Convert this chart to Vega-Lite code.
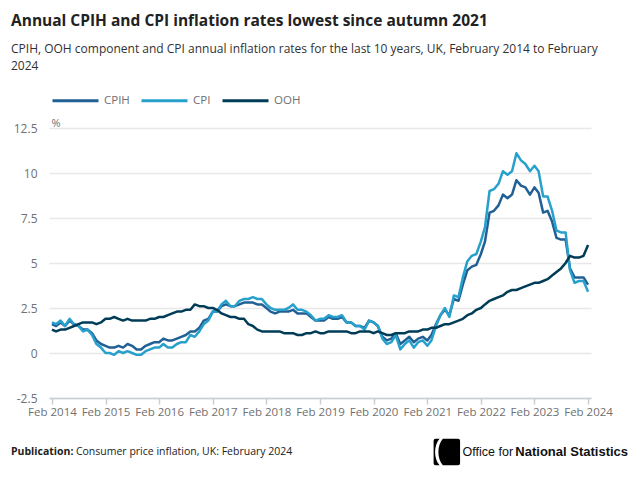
{
  "$schema": "https://vega.github.io/schema/vega-lite/v6.json",
  "width": 542,
  "height": 270,
  "autosize": {"type": "none"},
  "padding": {"left": 49, "top": 128, "right": 43, "bottom": 82},
  "background": "#ffffff",
  "title": {
    "text": "Annual CPIH and CPI inflation rates lowest since autumn 2021",
    "subtitle": ["CPIH, OOH component and CPI annual inflation rates for the last 10 years, UK, February 2014 to February", "2024"],
    "anchor": "start",
    "frame": "group",
    "dx": -38,
    "offset": 4,
    "font": "Open Sans",
    "fontSize": 15.5,
    "fontWeight": "bold",
    "color": "#222222",
    "subtitleFont": "Open Sans",
    "subtitleFontSize": 12,
    "subtitleColor": "#323132",
    "subtitleLineHeight": 17,
    "subtitlePadding": 15
  },
  "config": {
    "font": "Open Sans",
    "view": {"stroke": null},
    "axis": {"labelFont": "Open Sans", "titleFont": "Open Sans"}
  },
  "layer": [
    {
      "data": {
        "values": [
          {"d": "2014-02-01", "CPIH": 1.6, "CPI": 1.7, "OOH": 1.3},
          {"d": "2014-03-01", "CPIH": 1.5, "CPI": 1.6, "OOH": 1.2},
          {"d": "2014-04-01", "CPIH": 1.7, "CPI": 1.8, "OOH": 1.3},
          {"d": "2014-05-01", "CPIH": 1.5, "CPI": 1.5, "OOH": 1.3},
          {"d": "2014-06-01", "CPIH": 1.8, "CPI": 1.9, "OOH": 1.4},
          {"d": "2014-07-01", "CPIH": 1.6, "CPI": 1.6, "OOH": 1.5},
          {"d": "2014-08-01", "CPIH": 1.5, "CPI": 1.5, "OOH": 1.6},
          {"d": "2014-09-01", "CPIH": 1.3, "CPI": 1.2, "OOH": 1.7},
          {"d": "2014-10-01", "CPIH": 1.3, "CPI": 1.3, "OOH": 1.7},
          {"d": "2014-11-01", "CPIH": 1.1, "CPI": 1.0, "OOH": 1.7},
          {"d": "2014-12-01", "CPIH": 0.7, "CPI": 0.5, "OOH": 1.6},
          {"d": "2015-01-01", "CPIH": 0.5, "CPI": 0.3, "OOH": 1.7},
          {"d": "2015-02-01", "CPIH": 0.4, "CPI": 0.0, "OOH": 1.9},
          {"d": "2015-03-01", "CPIH": 0.3, "CPI": 0.0, "OOH": 1.9},
          {"d": "2015-04-01", "CPIH": 0.3, "CPI": -0.1, "OOH": 2.0},
          {"d": "2015-05-01", "CPIH": 0.4, "CPI": 0.1, "OOH": 1.9},
          {"d": "2015-06-01", "CPIH": 0.3, "CPI": 0.0, "OOH": 1.8},
          {"d": "2015-07-01", "CPIH": 0.5, "CPI": 0.1, "OOH": 1.9},
          {"d": "2015-08-01", "CPIH": 0.4, "CPI": 0.0, "OOH": 1.8},
          {"d": "2015-09-01", "CPIH": 0.2, "CPI": -0.1, "OOH": 1.8},
          {"d": "2015-10-01", "CPIH": 0.2, "CPI": -0.1, "OOH": 1.8},
          {"d": "2015-11-01", "CPIH": 0.4, "CPI": 0.1, "OOH": 1.8},
          {"d": "2015-12-01", "CPIH": 0.5, "CPI": 0.2, "OOH": 1.9},
          {"d": "2016-01-01", "CPIH": 0.6, "CPI": 0.3, "OOH": 1.9},
          {"d": "2016-02-01", "CPIH": 0.6, "CPI": 0.3, "OOH": 2.0},
          {"d": "2016-03-01", "CPIH": 0.8, "CPI": 0.5, "OOH": 2.0},
          {"d": "2016-04-01", "CPIH": 0.7, "CPI": 0.3, "OOH": 2.1},
          {"d": "2016-05-01", "CPIH": 0.7, "CPI": 0.3, "OOH": 2.2},
          {"d": "2016-06-01", "CPIH": 0.8, "CPI": 0.5, "OOH": 2.3},
          {"d": "2016-07-01", "CPIH": 0.9, "CPI": 0.6, "OOH": 2.3},
          {"d": "2016-08-01", "CPIH": 1.0, "CPI": 0.6, "OOH": 2.4},
          {"d": "2016-09-01", "CPIH": 1.2, "CPI": 1.0, "OOH": 2.4},
          {"d": "2016-10-01", "CPIH": 1.2, "CPI": 0.9, "OOH": 2.7},
          {"d": "2016-11-01", "CPIH": 1.4, "CPI": 1.2, "OOH": 2.6},
          {"d": "2016-12-01", "CPIH": 1.8, "CPI": 1.6, "OOH": 2.6},
          {"d": "2017-01-01", "CPIH": 1.9, "CPI": 1.8, "OOH": 2.5},
          {"d": "2017-02-01", "CPIH": 2.3, "CPI": 2.3, "OOH": 2.5},
          {"d": "2017-03-01", "CPIH": 2.3, "CPI": 2.3, "OOH": 2.4},
          {"d": "2017-04-01", "CPIH": 2.6, "CPI": 2.7, "OOH": 2.2},
          {"d": "2017-05-01", "CPIH": 2.7, "CPI": 2.9, "OOH": 2.1},
          {"d": "2017-06-01", "CPIH": 2.6, "CPI": 2.6, "OOH": 2.0},
          {"d": "2017-07-01", "CPIH": 2.6, "CPI": 2.6, "OOH": 2.0},
          {"d": "2017-08-01", "CPIH": 2.7, "CPI": 2.9, "OOH": 1.9},
          {"d": "2017-09-01", "CPIH": 2.8, "CPI": 3.0, "OOH": 1.9},
          {"d": "2017-10-01", "CPIH": 2.8, "CPI": 3.0, "OOH": 1.6},
          {"d": "2017-11-01", "CPIH": 2.8, "CPI": 3.1, "OOH": 1.5},
          {"d": "2017-12-01", "CPIH": 2.7, "CPI": 3.0, "OOH": 1.3},
          {"d": "2018-01-01", "CPIH": 2.7, "CPI": 3.0, "OOH": 1.2},
          {"d": "2018-02-01", "CPIH": 2.5, "CPI": 2.7, "OOH": 1.2},
          {"d": "2018-03-01", "CPIH": 2.3, "CPI": 2.5, "OOH": 1.2},
          {"d": "2018-04-01", "CPIH": 2.2, "CPI": 2.4, "OOH": 1.2},
          {"d": "2018-05-01", "CPIH": 2.3, "CPI": 2.4, "OOH": 1.2},
          {"d": "2018-06-01", "CPIH": 2.3, "CPI": 2.4, "OOH": 1.1},
          {"d": "2018-07-01", "CPIH": 2.3, "CPI": 2.5, "OOH": 1.1},
          {"d": "2018-08-01", "CPIH": 2.4, "CPI": 2.7, "OOH": 1.1},
          {"d": "2018-09-01", "CPIH": 2.2, "CPI": 2.4, "OOH": 1.0},
          {"d": "2018-10-01", "CPIH": 2.2, "CPI": 2.4, "OOH": 1.0},
          {"d": "2018-11-01", "CPIH": 2.2, "CPI": 2.3, "OOH": 1.1},
          {"d": "2018-12-01", "CPIH": 2.0, "CPI": 2.1, "OOH": 1.1},
          {"d": "2019-01-01", "CPIH": 1.8, "CPI": 1.8, "OOH": 1.2},
          {"d": "2019-02-01", "CPIH": 1.8, "CPI": 1.9, "OOH": 1.1},
          {"d": "2019-03-01", "CPIH": 1.8, "CPI": 1.9, "OOH": 1.1},
          {"d": "2019-04-01", "CPIH": 2.0, "CPI": 2.1, "OOH": 1.2},
          {"d": "2019-05-01", "CPIH": 1.9, "CPI": 2.0, "OOH": 1.2},
          {"d": "2019-06-01", "CPIH": 1.9, "CPI": 2.0, "OOH": 1.2},
          {"d": "2019-07-01", "CPIH": 2.0, "CPI": 2.1, "OOH": 1.2},
          {"d": "2019-08-01", "CPIH": 1.7, "CPI": 1.7, "OOH": 1.2},
          {"d": "2019-09-01", "CPIH": 1.7, "CPI": 1.7, "OOH": 1.1},
          {"d": "2019-10-01", "CPIH": 1.5, "CPI": 1.5, "OOH": 1.1},
          {"d": "2019-11-01", "CPIH": 1.5, "CPI": 1.5, "OOH": 1.2},
          {"d": "2019-12-01", "CPIH": 1.4, "CPI": 1.3, "OOH": 1.2},
          {"d": "2020-01-01", "CPIH": 1.8, "CPI": 1.8, "OOH": 1.2},
          {"d": "2020-02-01", "CPIH": 1.7, "CPI": 1.7, "OOH": 1.1},
          {"d": "2020-03-01", "CPIH": 1.5, "CPI": 1.5, "OOH": 1.2},
          {"d": "2020-04-01", "CPIH": 0.9, "CPI": 0.8, "OOH": 1.1},
          {"d": "2020-05-01", "CPIH": 0.7, "CPI": 0.5, "OOH": 1.0},
          {"d": "2020-06-01", "CPIH": 0.8, "CPI": 0.6, "OOH": 1.0},
          {"d": "2020-07-01", "CPIH": 1.1, "CPI": 1.0, "OOH": 1.1},
          {"d": "2020-08-01", "CPIH": 0.5, "CPI": 0.2, "OOH": 1.1},
          {"d": "2020-09-01", "CPIH": 0.7, "CPI": 0.5, "OOH": 1.1},
          {"d": "2020-10-01", "CPIH": 0.9, "CPI": 0.7, "OOH": 1.2},
          {"d": "2020-11-01", "CPIH": 0.6, "CPI": 0.3, "OOH": 1.2},
          {"d": "2020-12-01", "CPIH": 0.8, "CPI": 0.6, "OOH": 1.2},
          {"d": "2021-01-01", "CPIH": 0.9, "CPI": 0.7, "OOH": 1.3},
          {"d": "2021-02-01", "CPIH": 0.7, "CPI": 0.4, "OOH": 1.3},
          {"d": "2021-03-01", "CPIH": 1.0, "CPI": 0.7, "OOH": 1.4},
          {"d": "2021-04-01", "CPIH": 1.6, "CPI": 1.5, "OOH": 1.4},
          {"d": "2021-05-01", "CPIH": 2.1, "CPI": 2.1, "OOH": 1.5},
          {"d": "2021-06-01", "CPIH": 2.4, "CPI": 2.5, "OOH": 1.6},
          {"d": "2021-07-01", "CPIH": 2.1, "CPI": 2.0, "OOH": 1.6},
          {"d": "2021-08-01", "CPIH": 3.0, "CPI": 3.2, "OOH": 1.7},
          {"d": "2021-09-01", "CPIH": 2.9, "CPI": 3.1, "OOH": 1.8},
          {"d": "2021-10-01", "CPIH": 3.8, "CPI": 4.2, "OOH": 1.9},
          {"d": "2021-11-01", "CPIH": 4.6, "CPI": 5.1, "OOH": 2.1},
          {"d": "2021-12-01", "CPIH": 4.8, "CPI": 5.4, "OOH": 2.2},
          {"d": "2022-01-01", "CPIH": 4.9, "CPI": 5.5, "OOH": 2.4},
          {"d": "2022-02-01", "CPIH": 5.5, "CPI": 6.2, "OOH": 2.5},
          {"d": "2022-03-01", "CPIH": 6.2, "CPI": 7.0, "OOH": 2.7},
          {"d": "2022-04-01", "CPIH": 7.8, "CPI": 9.0, "OOH": 2.9},
          {"d": "2022-05-01", "CPIH": 7.9, "CPI": 9.1, "OOH": 3.0},
          {"d": "2022-06-01", "CPIH": 8.2, "CPI": 9.4, "OOH": 3.1},
          {"d": "2022-07-01", "CPIH": 8.8, "CPI": 10.1, "OOH": 3.2},
          {"d": "2022-08-01", "CPIH": 8.6, "CPI": 9.9, "OOH": 3.4},
          {"d": "2022-09-01", "CPIH": 8.8, "CPI": 10.1, "OOH": 3.5},
          {"d": "2022-10-01", "CPIH": 9.6, "CPI": 11.1, "OOH": 3.5},
          {"d": "2022-11-01", "CPIH": 9.3, "CPI": 10.7, "OOH": 3.6},
          {"d": "2022-12-01", "CPIH": 9.2, "CPI": 10.5, "OOH": 3.7},
          {"d": "2023-01-01", "CPIH": 8.8, "CPI": 10.1, "OOH": 3.8},
          {"d": "2023-02-01", "CPIH": 9.2, "CPI": 10.4, "OOH": 3.9},
          {"d": "2023-03-01", "CPIH": 8.9, "CPI": 10.1, "OOH": 3.9},
          {"d": "2023-04-01", "CPIH": 7.8, "CPI": 8.7, "OOH": 4.0},
          {"d": "2023-05-01", "CPIH": 7.9, "CPI": 8.7, "OOH": 4.1},
          {"d": "2023-06-01", "CPIH": 7.3, "CPI": 7.9, "OOH": 4.3},
          {"d": "2023-07-01", "CPIH": 6.4, "CPI": 6.8, "OOH": 4.5},
          {"d": "2023-08-01", "CPIH": 6.3, "CPI": 6.7, "OOH": 4.7},
          {"d": "2023-09-01", "CPIH": 6.3, "CPI": 6.7, "OOH": 5.0},
          {"d": "2023-10-01", "CPIH": 4.7, "CPI": 4.6, "OOH": 5.4},
          {"d": "2023-11-01", "CPIH": 4.2, "CPI": 3.9, "OOH": 5.3},
          {"d": "2023-12-01", "CPIH": 4.2, "CPI": 4.0, "OOH": 5.3},
          {"d": "2024-01-01", "CPIH": 4.2, "CPI": 4.0, "OOH": 5.4},
          {"d": "2024-02-01", "CPIH": 3.8, "CPI": 3.4, "OOH": 6.0}
        ]
      },
      "transform": [{"fold": ["CPIH", "CPI", "OOH"], "as": ["series", "value"]}],
      "mark": {"type": "line", "strokeWidth": 2.5, "strokeJoin": "round"},
      "encoding": {
        "x": {
          "field": "d",
          "type": "temporal",
          "scale": {
            "type": "utc",
            "domain": [
              {"year": 2014, "month": 1, "date": 12, "utc": true},
              {"year": 2024, "month": 2, "date": 21, "utc": true}
            ]
          },
          "axis": {
            "title": null,
            "values": [
              {"year": 2014, "month": 2, "date": 1, "utc": true},
              {"year": 2015, "month": 2, "date": 1, "utc": true},
              {"year": 2016, "month": 2, "date": 1, "utc": true},
              {"year": 2017, "month": 2, "date": 1, "utc": true},
              {"year": 2018, "month": 2, "date": 1, "utc": true},
              {"year": 2019, "month": 2, "date": 1, "utc": true},
              {"year": 2020, "month": 2, "date": 1, "utc": true},
              {"year": 2021, "month": 2, "date": 1, "utc": true},
              {"year": 2022, "month": 2, "date": 1, "utc": true},
              {"year": 2023, "month": 2, "date": 1, "utc": true},
              {"year": 2024, "month": 2, "date": 1, "utc": true}
            ],
            "labelExpr": "utcFormat(datum.value, '%b %Y')",
            "grid": false,
            "domainColor": "#c6ced6",
            "domainWidth": 1.5,
            "tickColor": "#c6ced6",
            "tickWidth": 1.5,
            "tickSize": 6,
            "labelColor": "#707071",
            "labelFontSize": 11.5,
            "labelPadding": 2,
            "labelFlush": false,
            "labelOverlap": false
          }
        },
        "y": {
          "field": "value",
          "type": "quantitative",
          "scale": {"domain": [-2.5, 12.5], "nice": false, "zero": false},
          "axis": {
            "values": [-2.5, 0, 2.5, 5, 7.5, 10, 12.5],
            "labelExpr": "datum.value + ''",
            "title": "%",
            "titleAngle": 0,
            "titleAlign": "left",
            "titleBaseline": "middle",
            "titleX": 2,
            "titleY": -5,
            "titleFontSize": 11,
            "titleFontWeight": "normal",
            "titleColor": "#707071",
            "domain": false,
            "ticks": false,
            "gridColor": "#e8e8e8",
            "gridWidth": 1.5,
            "labelColor": "#707071",
            "labelFontSize": 12,
            "labelPadding": 12
          }
        },
        "color": {
          "field": "series",
          "type": "nominal",
          "scale": {"domain": ["CPIH", "CPI", "OOH"], "range": ["#206095", "#27a0cc", "#003c57"]},
          "legend": {
            "title": null,
            "orient": "none",
            "legendX": 2,
            "legendY": -52,
            "direction": "horizontal",
            "symbolType": "stroke",
            "symbolSize": 2116,
            "symbolStrokeWidth": 3,
            "labelOffset": 4,
            "labelColor": "#707071",
            "labelFontSize": 11.5,
            "columnPadding": 5
          }
        }
      }
    },
    {
      "data": {"values": [{"t": "Publication:"}]},
      "mark": {"type": "text", "align": "left", "baseline": "alphabetic", "dx": -41, "dy": 57, "fontSize": 10.5, "fontWeight": "bold", "color": "#222222"},
      "encoding": {
        "x": {"datum": {"year": 2014, "month": 2, "date": 1, "utc": true}, "type": "temporal"},
        "y": {"datum": -2.5},
        "text": {"field": "t"}
      }
    },
    {
      "data": {"values": [{"t": "Consumer price inflation, UK: February 2024"}]},
      "mark": {"type": "text", "align": "left", "baseline": "alphabetic", "dx": 24, "dy": 57, "fontSize": 10.5, "color": "#222222"},
      "encoding": {
        "x": {"datum": {"year": 2014, "month": 2, "date": 1, "utc": true}, "type": "temporal"},
        "y": {"datum": -2.5},
        "text": {"field": "t"}
      }
    },
    {
      "data": {"values": [{"t": "Office for"}]},
      "mark": {"type": "text", "align": "right", "baseline": "alphabetic", "dx": -75, "dy": 58, "fontSize": 12.5, "color": "#111111", "font": "Liberation Sans"},
      "encoding": {
        "x": {"datum": {"year": 2024, "month": 2, "date": 1, "utc": true}, "type": "temporal"},
        "y": {"datum": -2.5},
        "text": {"field": "t"}
      }
    },
    {
      "data": {"values": [{"t": "National Statistics"}]},
      "mark": {"type": "text", "align": "right", "baseline": "alphabetic", "dx": 40, "dy": 58, "fontSize": 13, "fontWeight": "bold", "color": "#111111", "font": "Liberation Sans"},
      "encoding": {
        "x": {"datum": {"year": 2024, "month": 2, "date": 1, "utc": true}, "type": "temporal"},
        "y": {"datum": -2.5},
        "text": {"field": "t"}
      }
    },
    {
      "data": {"values": [{"t": "logo"}]},
      "mark": {
        "type": "point",
        "filled": true,
        "color": "#000000",
        "opacity": 1,
        "size": 700,
        "shape": "M -0.3 -1 L 0.85 -1 Q 1 -1 1 -0.85 L 1 0.85 Q 1 1 0.85 1 L -0.3 1 C -0.75 0.5 -0.75 -0.5 -0.3 -1 Z M -0.55 -1 C -1 -0.5 -1 0.5 -0.55 1 L -0.85 1 Q -1 1 -1 0.85 L -1 -0.85 Q -1 -1 -0.85 -1 Z"
      },
      "encoding": {
        "x": {"datum": {"year": 2021, "month": 6, "date": 14, "utc": true}, "type": "temporal"},
        "y": {"datum": -5.5}
      }
    }
  ]
}
